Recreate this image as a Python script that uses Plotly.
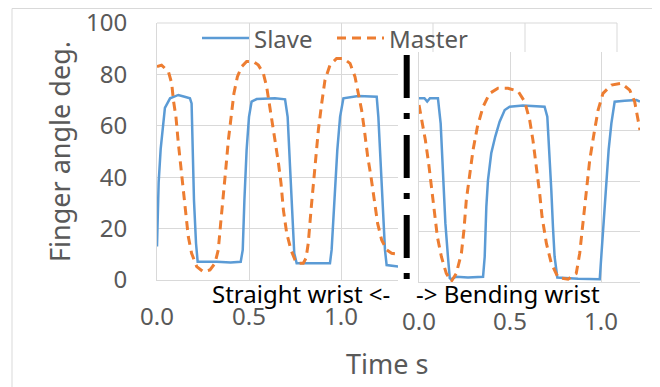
import plotly.graph_objects as go

# ---------------- data ----------------
# Left panel: straight wrist
left_t_slave = [0.000, 0.005, 0.009, 0.020, 0.031, 0.043, 0.071, 0.095, 0.116, 0.150, 0.179, 0.188,
                0.194, 0.201, 0.212, 0.221, 0.324, 0.400, 0.455, 0.466, 0.475, 0.487, 0.500, 0.514,
                0.542, 0.600, 0.641, 0.696, 0.710, 0.723, 0.736, 0.746, 0.759, 0.850, 0.940, 0.949,
                0.964, 0.980, 0.995, 1.013, 1.094, 1.194, 1.203, 1.217, 1.230, 1.239, 1.248, 1.312]
left_slave = [13, 25, 38, 51, 60, 67, 70.7, 71.5, 72, 71.3, 70.7, 68.7,
              50.6, 31, 14.3, 7.1, 7.1, 6.8, 7.1, 11.7, 31, 50.6, 63.5, 69.4,
              70.4, 70.6, 70.7, 70.3, 63.5, 44.1, 24.6, 10.4, 6.5, 6.5, 6.5, 11.7,
              31, 50.6, 63.5, 70.7, 71.6, 71.3, 63.5, 44.1, 27.2, 11.7, 5.8, 5.2]

left_t_master = [0.000, 0.025, 0.062, 0.080, 0.089, 0.103, 0.116, 0.129, 0.143, 0.158, 0.170, 0.188,
                 0.216, 0.252, 0.288, 0.315, 0.333, 0.346, 0.361, 0.375, 0.388, 0.402, 0.418, 0.437,
                 0.460, 0.487, 0.524, 0.551, 0.578, 0.596, 0.614, 0.629, 0.641, 0.660, 0.674, 0.687,
                 0.705, 0.728, 0.750, 0.768, 0.795, 0.810, 0.822, 0.837, 0.850, 0.862, 0.877, 0.895,
                 0.913, 0.940, 0.976, 1.013, 1.049, 1.076, 1.094, 1.112, 1.127, 1.145, 1.163, 1.181,
                 1.199, 1.221, 1.248, 1.275, 1.312]
left_master = [83, 83.6, 81.1, 76.5, 70, 63.5, 53.2, 44.1, 33.7, 24.6, 16.9, 10.4,
               5.2, 3.2, 3.9, 6.5, 11.7, 22, 32.4, 44.1, 54.5, 63.5, 72.6, 79.1,
               83, 85, 85, 83.6, 80.4, 75.2, 67.4, 59.7, 54.5, 45.5, 37.6, 27.2,
               18.2, 11.7, 7.8, 6.5, 6.5, 8.5, 14.3, 27.2, 37.6, 48, 58.4, 68.7,
               77.8, 83.6, 86.2, 86.2, 84.3, 79.1, 72.6, 66.1, 58.4, 48, 40.2, 31.1,
               22, 15.6, 11.7, 10.4, 10.1]

# Right panel: bending wrist
right_t_slave = [0.000, 0.030, 0.045, 0.060, 0.104, 0.119, 0.132, 0.145, 0.159, 0.169, 0.176, 0.205,
                 0.269, 0.352, 0.361, 0.370, 0.379, 0.397, 0.419, 0.443, 0.471, 0.498, 0.571, 0.690,
                 0.705, 0.718, 0.727, 0.736, 0.745, 0.760, 0.874, 0.993, 1.002, 1.016, 1.029, 1.042,
                 1.057, 1.075, 1.130, 1.194, 1.214]
right_slave = [72.8, 72.8, 71.5, 72.8, 72.8, 62.8, 43, 23.2, 10, 1.5, 1.1, 2.1,
               1.8, 2.1, 10, 29.8, 40.4, 51, 57.6, 63.5, 68.1, 69.4, 69.9, 69.4,
               65.5, 49.6, 36.4, 21.9, 10, 1.8, 1.3, 1.1, 10, 23.2, 39.1, 52.3,
               62.8, 71.4, 71.8, 72.1, 71.4]

right_t_master = [0.000, 0.016, 0.035, 0.053, 0.068, 0.082, 0.101, 0.123, 0.150, 0.178, 0.205, 0.233,
                  0.247, 0.260, 0.278, 0.297, 0.321, 0.352, 0.388, 0.434, 0.489, 0.544, 0.581, 0.608,
                  0.626, 0.645, 0.663, 0.676, 0.700, 0.727, 0.764, 0.819, 0.864, 0.883, 0.901, 0.919,
                  0.938, 0.962, 0.984, 1.011, 1.057, 1.112, 1.158, 1.185, 1.203, 1.214]
right_master = [70.1, 64.2, 56.2, 47, 37.8, 27.2, 17.9, 10, 3.4, 0.3, 3.4, 11.4,
                20.6, 32.5, 43, 52.3, 61.5, 69.4, 74.7, 76.7, 76.7, 75.6, 71.4, 64.2,
                56.2, 45.7, 35.1, 25.9, 15.3, 7.4, 1.8, 1.1, 3.4, 11.4, 23.2, 36.4,
                48.3, 58.9, 68.1, 74.7, 78, 78.7, 76, 71.4, 64.2, 60.2]

x_ticks = [0.0, 0.5, 1.0]
x_tick_labels = ["0.0", "0.5", "1.0"]
y_ticks = [0, 20, 40, 60, 80, 100]
y_tick_labels = ["0", "20", "40", "60", "80", "100"]
series_names = ["Slave", "Master"]

# ---------------- styling / layout helpers ----------------
W, H = 660, 387
OFF = 8  # page body margin offset in the browser
def px(X):
    return (X - OFF) / W
def py(Y):
    return 1 - (Y - OFF) / H

BLUE = "#5b9bd5"
ORANGE = "#ed7d31"
GRID = "#d9d9d9"
TXT = "#595959"
FONT = "Noto Sans"
MDASH = "9px,6px"

fig = go.Figure()
fig.add_trace(go.Scatter(x=left_t_slave, y=left_slave, mode="lines", name=series_names[0],
                         line=dict(color=BLUE, width=2.5), xaxis="x", yaxis="y"))
fig.add_trace(go.Scatter(x=left_t_master, y=left_master, mode="lines", name=series_names[1],
                         line=dict(color=ORANGE, width=3, dash=MDASH), xaxis="x", yaxis="y"))
fig.add_trace(go.Scatter(x=right_t_slave, y=right_slave, mode="lines", name=series_names[0],
                         line=dict(color=BLUE, width=2.5), xaxis="x2", yaxis="y2"))
fig.add_trace(go.Scatter(x=right_t_master, y=right_master, mode="lines", name=series_names[1],
                         line=dict(color=ORANGE, width=3, dash=MDASH), xaxis="x2", yaxis="y2"))
# the right chart's own legend, mostly hidden above its plot area
fig.add_trace(go.Scatter(x=[0.687], y=[93.5], mode="text", text=[series_names[0]],
                         textposition="middle center",
                         textfont=dict(family=FONT, size=24, color=TXT), cliponaxis=True,
                         xaxis="x2", yaxis="y2", hoverinfo="skip"))

axis_common = dict(showgrid=True, gridcolor=GRID, gridwidth=1, zeroline=False,
                   showline=True, linecolor=GRID, linewidth=1, automargin=False,
                   ticks="outside", tickcolor="rgba(0,0,0,0)", ticklabeloverflow="allow",
                   tickfont=dict(family=FONT, size=24, color=TXT), fixedrange=True)

fig.update_layout(
    width=W, height=H, margin=dict(l=0, r=0, t=0, b=0, pad=0, autoexpand=False),
    paper_bgcolor="white", plot_bgcolor="white", showlegend=False,
    xaxis=dict(domain=[px(157), px(398)], range=[0, (398 - 157) / 184], anchor="y",
               tickvals=x_ticks, ticktext=x_tick_labels, ticklen=15, **axis_common),
    yaxis=dict(domain=[py(280), py(23)], range=[0, 100], anchor="x",
               tickvals=y_ticks, ticktext=y_tick_labels, ticklen=24, **axis_common),
    xaxis2=dict(domain=[px(419), px(640)], range=[0, (640 - 419) / 182], anchor="y2",
                tickvals=x_ticks, ticktext=x_tick_labels, ticklen=18, **axis_common),
    yaxis2=dict(domain=[py(282), py(52)], range=[0, (282 - 52) / 2.525], anchor="x2",
                tickvals=y_ticks[:-1], showticklabels=False, **axis_common),
)

shapes = [
    # outer chart border
    dict(type="rect", xref="paper", yref="paper", x0=px(12), x1=px(653), y0=-0.05, y1=py(8.5),
         line=dict(color=GRID, width=1), layer="below"),
    # left chart grid remaining visible above the right chart
    dict(type="line", xref="paper", yref="paper", x0=px(157), x1=px(617), y0=py(23), y1=py(23),
         line=dict(color=GRID, width=1), layer="below"),
]
for gx in (433, 525, 617):
    shapes.append(dict(type="line", xref="paper", yref="paper", x0=px(gx), x1=px(gx),
                       y0=py(23), y1=py(52), line=dict(color=GRID, width=1), layer="below"))
# dash-dot separator
shapes.append(dict(type="line", xref="paper", yref="paper", x0=px(406.7), x1=px(406.7),
                   y0=py(55), y1=py(281), line=dict(color="black", width=6, dash="43px,15px,6px,16px")))
# legend samples
shapes.append(dict(type="line", xref="paper", yref="paper", x0=px(202), x1=px(249), y0=py(38), y1=py(38),
                   line=dict(color=BLUE, width=2.5)))
shapes.append(dict(type="line", xref="paper", yref="paper", x0=px(337), x1=px(384), y0=py(38), y1=py(38),
                   line=dict(color=ORANGE, width=3, dash=MDASH)))
fig.update_layout(shapes=shapes)

ann = [
    dict(text=series_names[0], x=px(252), y=py(38), xanchor="left", yanchor="middle",
         font=dict(family=FONT, size=24, color=TXT)),
    dict(text=series_names[1], x=px(387), y=py(38), xanchor="left", yanchor="middle",
         font=dict(family=FONT, size=24, color=TXT)),
    dict(text="Finger angle deg.", x=px(59), y=py(152), xanchor="center", yanchor="middle",
         textangle=-90, font=dict(family=FONT, size=27, color=TXT)),
    dict(text="Time s", x=px(387), y=py(363), xanchor="center", yanchor="middle",
         font=dict(family=FONT, size=27, color=TXT)),
    dict(text="Straight wrist <-", x=px(210), y=py(293), xanchor="left", yanchor="middle",
         font=dict(family=FONT, size=24, color="black")),
    dict(text="-> Bending wrist", x=px(414), y=py(293), xanchor="left", yanchor="middle",
         font=dict(family=FONT, size=24, color="black")),
]
for a in ann:
    a.update(xref="paper", yref="paper", showarrow=False)
fig.update_layout(annotations=ann)

fig.write_html("out.html")
